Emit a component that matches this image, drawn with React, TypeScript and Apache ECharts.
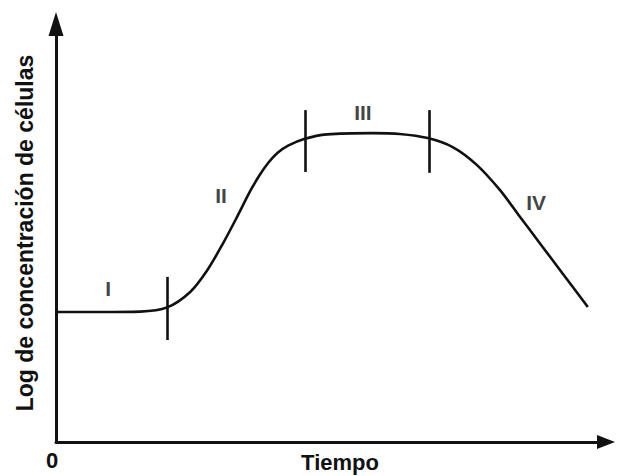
import React, { useEffect, useRef } from "react";
import * as echarts from "echarts";

// Growth curve (x = tiempo, y = log concentración), arbitrary units
const curveX = [0, 8, 15.3, 20.2, 24.4, 27.5, 30.4, 32.9, 35.3, 37, 38.6, 40.3, 42.2, 45.1, 49.3, 57.6, 62.5, 67.6, 72.2, 76.5, 80.7, 84, 88, 92, 96.7];
const curveY = [3.11, 3.11, 3.12, 3.22, 3.59, 4.11, 4.76, 5.38, 6.0, 6.38, 6.68, 6.92, 7.09, 7.25, 7.36, 7.39, 7.37, 7.27, 7.05, 6.63, 6.03, 5.45, 4.75, 4.05, 3.23];

// Phase boundaries (vertical marks)
const boundaryX = [20.2, 45.3, 67.8];
const boundaryLow = [2.44, 6.46, 6.44];
const boundaryHigh = [3.95, 7.94, 7.94];

// Phase labels
const phaseNames = ["I", "II", "III", "IV"];
const phaseX = [9.5, 30.0, 55.8, 87.3];
const phaseY = [3.68, 5.89, 7.89, 5.74];

const xTickLabels = ["0"];
const xAxisTitle = "Tiempo";
const yAxisTitle = "Log de concentración de células";

const INK = "#111";
const FONT = "'Liberation Sans', Arial, sans-serif";

export default function App() {
  const ref = useRef<HTMLDivElement>(null);
  useEffect(() => {
    if (!ref.current) return;
    const chart = echarts.init(ref.current, null, { renderer: "svg" });
    chart.setOption({
      animation: false,
      backgroundColor: "#ffffff",
      grid: { left: 56, right: 11, top: 24, bottom: 34, outerBoundsMode: "none", containLabel: false },
      xAxis: {
        type: "value",
        min: 0,
        max: 100,
        interval: 100,
        name: xAxisTitle,
        nameLocation: "middle",
        nameGap: 9,
        nameMoveOverlap: false,
        nameTextStyle: { fontFamily: FONT, fontWeight: "bold", fontSize: 22, color: INK, padding: [0, 0, 0, 18] },
        axisLine: { show: true, lineStyle: { color: INK, width: 3 }, symbol: ["none", "triangle"], symbolSize: [14, 18] },
        axisTick: { show: false },
        splitLine: { show: false },
        axisLabel: {
          show: true,
          margin: 7,
          formatter: (v: number) => (v === 0 ? xTickLabels[0] : ""),
          fontFamily: FONT,
          fontWeight: "bold",
          fontSize: 22,
          color: INK,
          padding: [0, 8, 0, 0],
        },
      },
      yAxis: {
        type: "value",
        min: 0,
        max: 10,
        name: yAxisTitle,
        nameLocation: "middle",
        nameGap: 20,
        nameMoveOverlap: false,
        nameTextStyle: { fontFamily: FONT, fontWeight: "bold", fontSize: 23, color: INK },
        axisLine: { show: true, lineStyle: { color: INK, width: 3 }, symbol: ["none", "triangle"], symbolSize: [15, 24] },
        axisTick: { show: false },
        splitLine: { show: false },
        axisLabel: { show: false },
      },
      series: [
        {
          type: "line",
          data: curveX.map((x, i) => [x, curveY[i]]),
          smooth: 0.3,
          showSymbol: false,
          symbol: "none",
          lineStyle: { color: INK, width: 2.6 },
          silent: true,
          markLine: {
            silent: true,
            symbol: "none",
            label: { show: false },
            lineStyle: { color: INK, width: 2.6, type: "solid" },
            data: boundaryX.map((x, i) => [
              { coord: [x, boundaryLow[i]] },
              { coord: [x, boundaryHigh[i]] },
            ]),
          },
        },
        {
          type: "scatter",
          data: phaseX.map((x, i) => [x, phaseY[i], phaseNames[i]]),
          symbolSize: 0,
          itemStyle: { color: "rgba(0,0,0,0)" },
          silent: true,
          label: {
            show: true,
            position: "inside",
            formatter: (p: any) => p.data[2],
            fontFamily: FONT,
            fontWeight: "bold",
            fontSize: 21,
            color: INK,
            textBorderWidth: 0,
          },
        },
      ],
    });
    return () => chart.dispose();
  }, []);
  return <div ref={ref} style={{ position: "fixed", left: 0, top: 0, width: 617, height: 476 }} />;
}
